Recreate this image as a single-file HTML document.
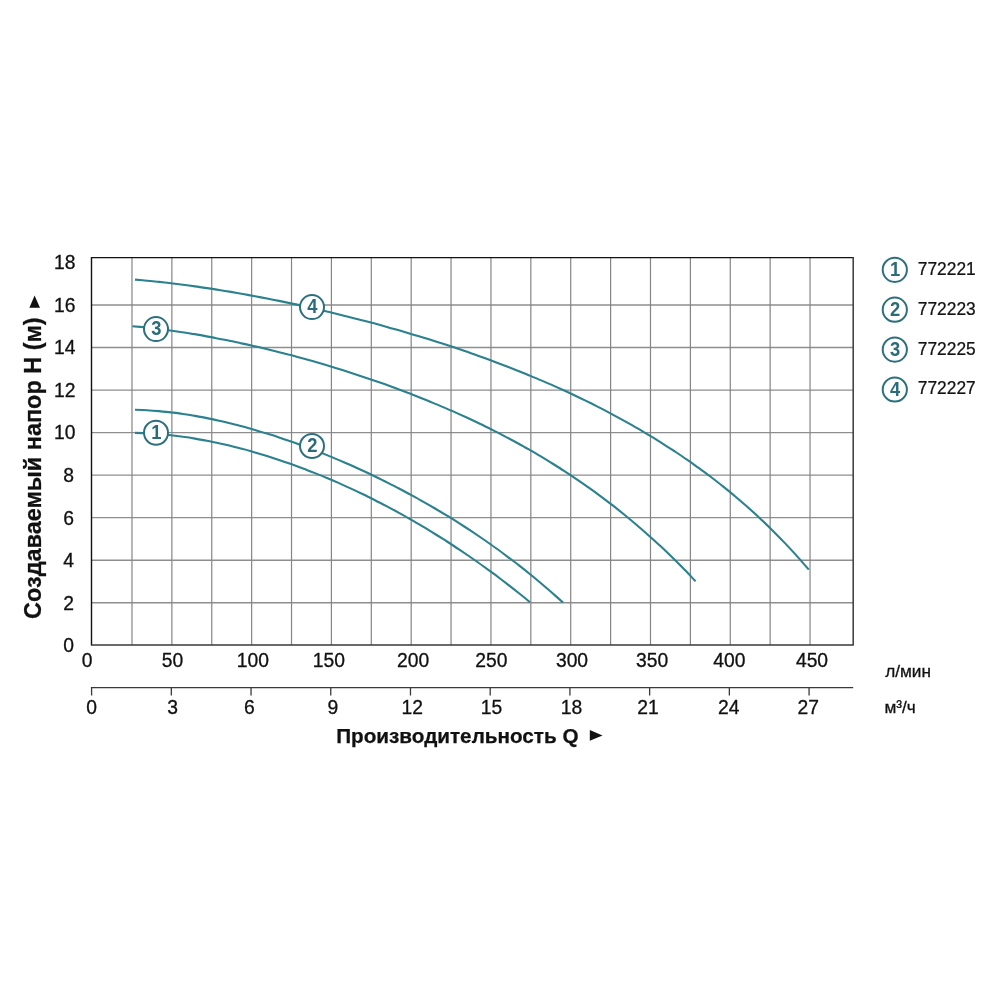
<!DOCTYPE html>
<html lang="ru"><head><meta charset="utf-8"><title>Chart</title>
<style>
html,body{margin:0;padding:0;background:#fff;}
body{width:1000px;height:1000px;overflow:hidden;}
svg{display:block;font-family:"Liberation Sans",sans-serif;}
.t{font-size:19.3px;fill:#111;stroke:#111;stroke-width:0.3px;}
.b{font-weight:bold;fill:#111;stroke:#111;stroke-width:0.25px;}
.c{fill:none;stroke:#2b818e;stroke-width:2.1;stroke-linecap:butt;}
.n{font-weight:bold;font-size:20px;fill:#2b6c79;text-anchor:middle;}
</style></head><body>
<svg width="1000" height="1000" viewBox="0 0 1000 1000">
<rect width="1000" height="1000" fill="#fff"/>
<path d="M91.5 602.76H853.2M91.5 560.22H853.2M91.5 517.68H853.2M91.5 475.14H853.2M91.5 432.60H853.2M91.5 390.06H853.2M91.5 347.52H853.2M91.5 304.98H853.2" stroke="#8e8e8e" stroke-width="1.35" fill="none"/>
<path d="M131.98 257.6V644.9M171.87 257.6V644.9M211.75 257.6V644.9M251.64 257.6V644.9M291.52 257.6V644.9M331.41 257.6V644.9M371.29 257.6V644.9M411.18 257.6V644.9M451.06 257.6V644.9M490.95 257.6V644.9M530.83 257.6V644.9M570.72 257.6V644.9M610.61 257.6V644.9M650.49 257.6V644.9M690.38 257.6V644.9M730.26 257.6V644.9M770.14 257.6V644.9M810.03 257.6V644.9" stroke="#858585" stroke-width="1.2" fill="none"/>
<path class="c" d="M135.0 279.6C137.0 279.8 143.0 280.3 147.0 280.7C151.0 281.0 155.0 281.5 159.0 281.9C163.0 282.3 167.0 282.8 171.0 283.2C175.0 283.7 179.0 284.2 183.0 284.7C187.0 285.3 191.0 285.8 195.0 286.4C199.0 286.9 203.0 287.5 207.0 288.1C211.0 288.7 215.0 289.3 219.0 290.0C223.0 290.6 227.0 291.3 231.0 291.9C235.0 292.6 239.0 293.3 243.0 294.0C247.0 294.7 251.0 295.5 255.0 296.2C259.0 297.0 263.0 297.7 267.0 298.5C271.0 299.3 275.0 300.1 279.0 300.9C283.0 301.7 287.0 302.6 291.0 303.4C295.0 304.2 299.0 305.1 303.0 306.0C307.0 306.9 311.0 307.8 315.0 308.7C319.0 309.6 323.0 310.5 327.0 311.5C331.0 312.4 335.0 313.4 339.0 314.4C343.0 315.4 347.0 316.4 351.0 317.4C355.0 318.4 359.0 319.4 363.0 320.5C367.0 321.5 371.0 322.6 375.0 323.6C379.0 324.7 383.0 325.8 387.0 326.9C391.0 328.1 395.0 329.2 399.0 330.3C403.0 331.5 407.0 332.7 411.0 333.9C415.0 335.0 419.0 336.3 423.0 337.5C427.0 338.7 431.0 340.0 435.0 341.2C439.0 342.5 443.0 343.8 447.0 345.1C451.0 346.4 455.0 347.7 459.0 349.1C463.0 350.4 467.0 351.8 471.0 353.2C475.0 354.6 479.0 356.0 483.0 357.5C487.0 358.9 491.0 360.4 495.0 361.9C499.0 363.4 503.0 364.9 507.0 366.4C511.0 368.0 515.0 369.6 519.0 371.2C523.0 372.8 527.0 374.4 531.0 376.1C535.0 377.7 539.0 379.4 543.0 381.1C547.0 382.8 551.0 384.6 555.0 386.4C559.0 388.2 563.0 390.0 567.0 391.8C571.0 393.7 575.0 395.6 579.0 397.5C583.0 399.4 587.0 401.4 591.0 403.3C595.0 405.3 599.0 407.4 603.0 409.4C607.0 411.5 611.0 413.6 615.0 415.8C619.0 417.9 623.0 420.1 627.0 422.4C631.0 424.6 635.0 426.9 639.0 429.2C643.0 431.6 647.0 433.9 651.0 436.4C655.0 438.8 659.0 441.3 663.0 443.8C667.0 446.3 671.0 448.9 675.0 451.5C679.0 454.2 683.0 456.9 687.0 459.7C691.0 462.4 695.0 465.3 699.0 468.1C703.0 471.0 707.0 474.0 711.0 477.0C715.0 480.1 719.0 483.2 723.0 486.4C727.0 489.6 731.0 492.8 735.0 496.2C739.0 499.6 743.0 503.0 747.0 506.5C751.0 510.1 755.0 513.7 759.0 517.4C763.0 521.2 767.0 525.0 771.0 528.9C775.0 532.9 779.0 536.9 783.0 541.1C787.0 545.2 790.7 549.2 795.0 553.9C799.3 558.7 806.5 567.0 808.8 569.6"/>
<path class="c" d="M132.4 326.2C134.4 326.4 140.4 326.9 144.4 327.3C148.4 327.8 152.4 328.2 156.4 328.7C160.4 329.2 164.4 329.7 168.4 330.2C172.4 330.8 176.4 331.4 180.4 332.0C184.4 332.6 188.4 333.2 192.4 333.9C196.4 334.5 200.4 335.2 204.4 335.9C208.4 336.6 212.4 337.4 216.4 338.2C220.4 338.9 224.4 339.7 228.4 340.5C232.4 341.3 236.4 342.2 240.4 343.1C244.4 343.9 248.4 344.8 252.4 345.7C256.4 346.6 260.4 347.6 264.4 348.5C268.4 349.5 272.4 350.5 276.4 351.5C280.4 352.5 284.4 353.5 288.4 354.6C292.4 355.6 296.4 356.7 300.4 357.8C304.4 358.9 308.4 360.0 312.4 361.1C316.4 362.3 320.4 363.4 324.4 364.6C328.4 365.8 332.4 367.0 336.4 368.2C340.4 369.5 344.4 370.7 348.4 372.0C352.4 373.3 356.4 374.6 360.4 375.9C364.4 377.2 368.4 378.6 372.4 379.9C376.4 381.3 380.4 382.7 384.4 384.1C388.4 385.6 392.4 387.0 396.4 388.5C400.4 390.0 404.4 391.5 408.4 393.0C412.4 394.5 416.4 396.1 420.4 397.7C424.4 399.3 428.4 400.9 432.4 402.6C436.4 404.2 440.4 405.9 444.4 407.6C448.4 409.3 452.4 411.1 456.4 412.9C460.4 414.7 464.4 416.5 468.4 418.3C472.4 420.2 476.4 422.1 480.4 424.0C484.4 425.9 488.4 427.9 492.4 429.9C496.4 431.9 500.4 434.0 504.4 436.1C508.4 438.2 512.4 440.3 516.4 442.5C520.4 444.7 524.4 446.9 528.4 449.2C532.4 451.5 536.4 453.8 540.4 456.2C544.4 458.6 548.4 461.0 552.4 463.5C556.4 466.0 560.4 468.5 564.4 471.1C568.4 473.7 572.4 476.3 576.4 479.1C580.4 481.8 584.4 484.5 588.4 487.4C592.4 490.2 596.4 493.1 600.4 496.1C604.4 499.1 608.4 502.1 612.4 505.2C616.4 508.3 620.4 511.5 624.4 514.7C628.4 518.0 632.4 521.3 636.4 524.7C640.4 528.1 644.4 531.6 648.4 535.2C652.4 538.7 656.4 542.4 660.4 546.1C664.4 549.8 668.4 553.7 672.4 557.6C676.4 561.5 680.5 565.6 684.4 569.6C688.3 573.5 693.7 579.4 695.6 581.3"/>
<path class="c" d="M135.0 409.7C137.0 409.8 143.0 410.0 147.0 410.2C151.0 410.4 155.0 410.7 159.0 411.1C163.0 411.5 167.0 411.9 171.0 412.4C175.0 412.8 179.0 413.4 183.0 414.0C187.0 414.6 191.0 415.2 195.0 415.9C199.0 416.6 203.0 417.3 207.0 418.1C211.0 418.9 215.0 419.8 219.0 420.7C223.0 421.6 227.0 422.5 231.0 423.5C235.0 424.5 239.0 425.5 243.0 426.6C247.0 427.7 251.0 428.8 255.0 429.9C259.0 431.1 263.0 432.3 267.0 433.6C271.0 434.8 275.0 436.1 279.0 437.4C283.0 438.7 287.0 440.1 291.0 441.5C295.0 442.9 299.0 444.3 303.0 445.8C307.0 447.3 311.0 448.8 315.0 450.3C319.0 451.9 323.0 453.5 327.0 455.1C331.0 456.7 335.0 458.4 339.0 460.1C343.0 461.8 347.0 463.6 351.0 465.3C355.0 467.1 359.0 468.9 363.0 470.8C367.0 472.6 371.0 474.5 375.0 476.5C379.0 478.4 383.0 480.3 387.0 482.4C391.0 484.4 395.0 486.4 399.0 488.5C403.0 490.6 407.0 492.7 411.0 494.9C415.0 497.1 419.0 499.3 423.0 501.6C427.0 503.8 431.0 506.1 435.0 508.5C439.0 510.8 443.0 513.2 447.0 515.7C451.0 518.1 455.0 520.6 459.0 523.1C463.0 525.7 467.0 528.3 471.0 530.9C475.0 533.6 479.0 536.3 483.0 539.0C487.0 541.8 491.0 544.6 495.0 547.5C499.0 550.3 503.0 553.3 507.0 556.3C511.0 559.3 515.0 562.3 519.0 565.4C523.0 568.5 527.0 571.7 531.0 575.0C535.0 578.2 539.0 581.6 543.0 585.0C547.0 588.4 551.7 592.4 555.0 595.4C558.3 598.3 561.7 601.4 563.0 602.6"/>
<path class="c" d="M135.0 432.9C137.0 432.9 143.0 433.1 147.0 433.3C151.0 433.5 155.0 433.8 159.0 434.1C163.0 434.4 167.0 434.8 171.0 435.3C175.0 435.7 179.0 436.2 183.0 436.8C187.0 437.3 191.0 437.9 195.0 438.6C199.0 439.3 203.0 440.0 207.0 440.8C211.0 441.6 215.0 442.4 219.0 443.3C223.0 444.1 227.0 445.1 231.0 446.0C235.0 447.0 239.0 448.0 243.0 449.1C247.0 450.1 251.0 451.3 255.0 452.4C259.0 453.6 263.0 454.8 267.0 456.0C271.0 457.3 275.0 458.6 279.0 459.9C283.0 461.2 287.0 462.6 291.0 464.0C295.0 465.5 299.0 466.9 303.0 468.4C307.0 469.9 311.0 471.5 315.0 473.1C319.0 474.7 323.0 476.3 327.0 478.0C331.0 479.7 335.0 481.4 339.0 483.1C343.0 484.9 347.0 486.7 351.0 488.6C355.0 490.4 359.0 492.3 363.0 494.3C367.0 496.2 371.0 498.2 375.0 500.2C379.0 502.2 383.0 504.3 387.0 506.4C391.0 508.5 395.0 510.7 399.0 512.9C403.0 515.1 407.0 517.3 411.0 519.6C415.0 521.9 419.0 524.3 423.0 526.7C427.0 529.0 431.0 531.5 435.0 534.0C439.0 536.4 443.0 539.0 447.0 541.5C451.0 544.1 455.0 546.7 459.0 549.4C463.0 552.1 467.0 554.8 471.0 557.5C475.0 560.3 479.0 563.1 483.0 566.0C487.0 568.9 491.0 571.8 495.0 574.7C499.0 577.7 503.0 580.8 507.0 583.8C511.0 586.9 515.2 590.2 519.0 593.3C522.8 596.3 528.2 600.7 530.0 602.2"/>
<path d="M91.5 257.6H853.2" stroke="#111" stroke-width="1.4" fill="none"/>
<path d="M91.5 256.90000000000003V645.6" stroke="#111" stroke-width="1.4" fill="none"/>
<path d="M91.5 644.9H853.9000000000001M853.2 256.90000000000003V644.9" stroke="#3a3a3a" stroke-width="1.5" fill="none"/>
<path d="M90.9 687.6H853.2M91.60 687.6V695.6M171.32 687.6V695.6M251.04 687.6V695.6M330.76 687.6V695.6M410.48 687.6V695.6M490.20 687.6V695.6M569.92 687.6V695.6M649.64 687.6V695.6M729.36 687.6V695.6M809.08 687.6V695.6" stroke="#3a3a3a" stroke-width="1.3" fill="none"/>
<circle cx="156" cy="432.8" r="12" fill="#fff" stroke="#2d707d" stroke-width="2"/><text class="n" transform="translate(156.3 438.9) scale(0.92 1)">1</text>
<circle cx="312.0" cy="446" r="12" fill="#fff" stroke="#2d707d" stroke-width="2"/><text class="n" transform="translate(312.3 452.1) scale(0.92 1)">2</text>
<circle cx="156" cy="329.1" r="12" fill="#fff" stroke="#2d707d" stroke-width="2"/><text class="n" transform="translate(156.3 335.2) scale(0.92 1)">3</text>
<circle cx="312" cy="307.1" r="12" fill="#fff" stroke="#2d707d" stroke-width="2"/><text class="n" transform="translate(312.3 313.2) scale(0.92 1)">4</text>
<circle cx="894.8" cy="269.8" r="12.1" fill="#fff" stroke="#2d707d" stroke-width="2"/><text class="n" transform="translate(895.1 275.9) scale(0.92 1)">1</text><text transform="translate(917.8 274.7) scale(0.992 1)" font-size="17.5" fill="#111" stroke="#111" stroke-width="0.25">772221</text>
<circle cx="894.8" cy="309.7" r="12.1" fill="#fff" stroke="#2d707d" stroke-width="2"/><text class="n" transform="translate(895.1 315.8) scale(0.92 1)">2</text><text transform="translate(917.8 314.6) scale(0.992 1)" font-size="17.5" fill="#111" stroke="#111" stroke-width="0.25">772223</text>
<circle cx="894.8" cy="349.6" r="12.1" fill="#fff" stroke="#2d707d" stroke-width="2"/><text class="n" transform="translate(895.1 355.7) scale(0.92 1)">3</text><text transform="translate(917.8 354.5) scale(0.992 1)" font-size="17.5" fill="#111" stroke="#111" stroke-width="0.25">772225</text>
<circle cx="894.8" cy="389.5" r="12.1" fill="#fff" stroke="#2d707d" stroke-width="2"/><text class="n" transform="translate(895.1 395.6) scale(0.92 1)">4</text><text transform="translate(917.8 394.4) scale(0.992 1)" font-size="17.5" fill="#111" stroke="#111" stroke-width="0.25">772227</text>
<text class="t" x="74.1" y="651.8" text-anchor="end">0</text><text class="t" x="74.1" y="609.7" text-anchor="end">2</text><text class="t" x="74.1" y="567.1" text-anchor="end">4</text><text class="t" x="74.1" y="524.6" text-anchor="end">6</text><text class="t" x="74.1" y="482.0" text-anchor="end">8</text><text class="t" x="75.4" y="439.2" text-anchor="end">10</text><text class="t" x="75.4" y="396.7" text-anchor="end">12</text><text class="t" x="75.4" y="354.1" text-anchor="end">14</text><text class="t" x="75.4" y="311.6" text-anchor="end">16</text><text class="t" x="75.4" y="269.1" text-anchor="end">18</text>
<text class="t" x="87.0" y="666.5" text-anchor="middle">0</text><text class="t" x="172.6" y="666.5" text-anchor="middle">50</text><text class="t" x="252.9" y="666.5" text-anchor="middle">100</text><text class="t" x="328.9" y="666.5" text-anchor="middle">150</text><text class="t" x="413.2" y="666.5" text-anchor="middle">200</text><text class="t" x="491.4" y="666.5" text-anchor="middle">250</text><text class="t" x="572.0" y="666.5" text-anchor="middle">300</text><text class="t" x="652.2" y="666.5" text-anchor="middle">350</text><text class="t" x="729.4" y="666.5" text-anchor="middle">400</text><text class="t" x="812.0" y="666.5" text-anchor="middle">450</text>
<text class="t" x="91.5" y="714.2" text-anchor="middle">0</text><text class="t" x="172.5" y="714.2" text-anchor="middle">3</text><text class="t" x="249.3" y="714.2" text-anchor="middle">6</text><text class="t" x="332.9" y="714.2" text-anchor="middle">9</text><text class="t" x="412.2" y="714.2" text-anchor="middle">12</text><text class="t" x="491.4" y="714.2" text-anchor="middle">15</text><text class="t" x="571.5" y="714.2" text-anchor="middle">18</text><text class="t" x="647.9" y="714.2" text-anchor="middle">21</text><text class="t" x="728.7" y="714.2" text-anchor="middle">24</text><text class="t" x="808.2" y="714.2" text-anchor="middle">27</text>
<text x="885.2" y="677.4" font-size="17.2" fill="#111" stroke="#111" stroke-width="0.3">л/мин</text>
<text x="884.4" y="713.2" font-size="17.2" fill="#111" stroke="#111" stroke-width="0.3">м³/ч</text>
<text class="b" x="336.2" y="742.5" font-size="20.7">Производительность Q</text>
<path d="M589.8 730L602.5 735.4L589.8 740.8Z" fill="#111"/>
<text class="b" transform="translate(41.2 618.9) rotate(-90) scale(1 1.03)" font-size="23.46">Создаваемый напор Н (м)</text>
<path d="M29.4 307.8L34.6 295.4L40 307.8Z" fill="#111"/>
</svg>
</body></html>
